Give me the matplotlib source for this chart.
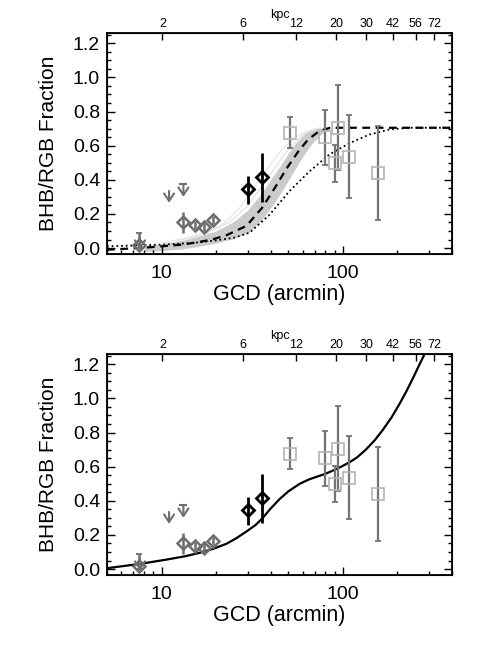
import numpy as np
import matplotlib
matplotlib.use("Agg")
import matplotlib.pyplot as plt
from matplotlib.ticker import MultipleLocator, NullLocator, NullFormatter, FixedLocator, FixedFormatter, LogLocator

plt.rcParams['font.family'] = ['Liberation Sans', 'DejaVu Sans']

# ---------------- data ----------------
# outer fields (gray squares)
sq_x = [51, 80, 90, 94, 108, 157]
sq_y = [0.675, 0.65, 0.50, 0.705, 0.535, 0.44]
sq_lo = [0.585, 0.485, 0.39, 0.455, 0.295, 0.165]
sq_hi = [0.77, 0.81, 0.605, 0.955, 0.78, 0.715]

# black diamonds
bd_x = [30.0, 35.8]
bd_y = [0.345, 0.415]
bd_lo = [0.26, 0.27]
bd_hi = [0.42, 0.555]

# gray diamonds
gd_x = [7.5, 13.2, 15.2, 17.1, 19.2]
gd_y = [0.015, 0.15, 0.135, 0.125, 0.165]
gd_lo = [0.0, 0.087, 0.11, 0.10, 0.14]
gd_hi = [0.087, 0.21, 0.16, 0.15, 0.19]
gd_cap = [True, False, False, False, False]

# upper limits (arrows)
ul_x = [7.6, 11.0, 13.2]
ul_top = [0.06, 0.335, 0.375]
ul_bot = [-0.01, 0.265, 0.30]
ul_cap = [False, False, True]

# top panel model curves
dash_x = [5, 7.5, 10, 13, 16, 19, 22.8, 29.4, 35.8, 42, 48.9, 56.7, 64.2, 74, 85, 120, 200, 400]
dash_y = [-0.01, 0.0, 0.01, 0.02, 0.035, 0.05, 0.075, 0.13, 0.235, 0.35, 0.465, 0.565, 0.635, 0.685, 0.705, 0.705, 0.705, 0.705]

band_x = [8, 10, 13, 16, 20, 25, 30, 35, 40, 45, 50, 55, 60, 65, 70, 80, 90]
band_hi = [0.01, 0.025, 0.045, 0.07, 0.10, 0.155, 0.225, 0.31, 0.40, 0.48, 0.555, 0.615, 0.66, 0.69, 0.70, 0.705, 0.705]
band_lo = [-0.02, -0.015, -0.005, 0.01, 0.03, 0.055, 0.09, 0.155, 0.235, 0.315, 0.395, 0.47, 0.535, 0.59, 0.63, 0.69, 0.705]

faint1_x = [12, 16, 20.9, 26.9, 36.3, 46.7, 57.9, 70, 85]
faint1_y = [0.04, 0.07, 0.12, 0.235, 0.43, 0.585, 0.665, 0.70, 0.705]
faint2_x = [10, 14, 18, 23.7, 30, 38, 48, 60, 75]
faint2_y = [0.03, 0.06, 0.10, 0.15, 0.25, 0.40, 0.555, 0.665, 0.705]

dot_x = [5, 7, 10, 15, 20, 25, 30.6, 39.4, 50.9, 65.6, 84.6, 109, 140, 181, 233, 300, 400]
dot_y = [0.01, 0.015, 0.02, 0.03, 0.045, 0.06, 0.09, 0.195, 0.335, 0.45, 0.55, 0.615, 0.665, 0.695, 0.705, 0.705, 0.705]

# bottom panel model curve
sol_x = [5, 7.6, 10.6, 13.5, 16.2, 19.2, 22.8, 25.8, 29.4, 33, 36.2, 40, 44.8, 50, 57.9, 65, 71.4, 80, 88.6, 98, 108.6, 120, 134, 150, 166, 186, 206, 225, 244, 265, 284]
sol_y = [0.005, 0.03, 0.055, 0.075, 0.095, 0.118, 0.148, 0.18, 0.22, 0.258, 0.30, 0.355, 0.41, 0.455, 0.50, 0.525, 0.54, 0.558, 0.578, 0.60, 0.625, 0.655, 0.70, 0.755, 0.815, 0.89, 0.97, 1.045, 1.12, 1.20, 1.265]

# top axis (kpc) tick positions in arcmin and labels
kpc_pos = [10.1, 28.2, 55.2, 91.5, 135, 188, 252, 320]
kpc_lab = ['2', '6', '12', '20', '30', '42', '56', '72']

GRAY_D = '#6e6e6e'
GRAY_E = '#747474'
GRAY_S = '#b4b4b4'


def draw(ax, top):
    if top:
        ax.fill_between(band_x, band_lo, band_hi, color='#cbcbcb', lw=0, zorder=1)
        ax.plot(faint1_x, faint1_y, color='#e4e4e4', lw=0.8, zorder=1)
        ax.plot(faint2_x, faint2_y, color='#e0e0e0', lw=0.8, zorder=1)
        ax.plot(dash_x, dash_y, color='k', lw=1.6, ls=(0, (3.5, 2.5)), zorder=3)
        ax.plot(dot_x, dot_y, color='k', lw=1.3, ls=(0, (1, 1.6)), zorder=3)
    else:
        ax.plot(sol_x, sol_y, color='k', lw=1.6, zorder=3)

    # squares
    sy = np.array(sq_y)
    ax.errorbar(sq_x, sq_y, yerr=[sy - np.array(sq_lo), np.array(sq_hi) - sy], fmt='none',
                ecolor=GRAY_E, elinewidth=1.6, capsize=2.5, capthick=1.3, zorder=4)
    ax.plot(sq_x, sq_y, 's', mfc='none', mec=GRAY_S, ms=8.5, mew=1.2, zorder=5)

    # gray diamonds
    for x, y, lo, hi, cap in zip(gd_x, gd_y, gd_lo, gd_hi, gd_cap):
        ax.errorbar([x], [y], yerr=[[y - lo], [hi - y]], fmt='none', ecolor=GRAY_D,
                    elinewidth=1.8, capsize=2.5 if cap else 0, capthick=1.3, zorder=4)
    ax.plot(gd_x, gd_y, 'D', mfc='none', mec=GRAY_D, ms=6, mew=1.8, zorder=5)

    # upper limits
    for x, t, b, cap in zip(ul_x, ul_top, ul_bot, ul_cap):
        ax.annotate('', xy=(x, b), xytext=(x, t),
                    arrowprops=dict(arrowstyle='->,head_length=0.45,head_width=0.3',
                                    color=GRAY_D, lw=1.5,
                                    shrinkA=0, shrinkB=0, mutation_scale=12),
                    zorder=5)
        if cap:
            ax.plot([x], [t], marker='_', color=GRAY_D, ms=6, mew=1.5, zorder=5)

    # black diamonds
    by = np.array(bd_y)
    ax.errorbar(bd_x, bd_y, yerr=[by - np.array(bd_lo), np.array(bd_hi) - by], fmt='none',
                ecolor='k', elinewidth=2.0, capsize=0, zorder=6)
    ax.plot(bd_x, bd_y, 'D', mfc='none', mec='k', ms=6, mew=2.0, zorder=7)

    ax.set_xscale('log')
    ax.set_xlim(5, 400)
    ax.set_ylim(-0.035, 1.26)
    ax.xaxis.set_major_locator(FixedLocator([10, 100]))
    ax.xaxis.set_major_formatter(FixedFormatter(['10', '100']))
    ax.xaxis.set_minor_locator(LogLocator(base=10, subs=np.arange(2, 10)))
    ax.xaxis.set_minor_formatter(NullFormatter())
    ax.yaxis.set_major_locator(MultipleLocator(0.2))
    ax.yaxis.set_minor_locator(MultipleLocator(0.05))
    ax.yaxis.set_major_formatter(plt.FuncFormatter(lambda v, p: f'{v:.1f}'))
    ax.tick_params(which='both', direction='in', top=False, right=True, width=1.0)
    ax.tick_params(which='major', length=6, labelsize=14, pad=5)
    ax.tick_params(which='minor', length=3)
    ax.tick_params(axis='x', which='major', pad=8)
    for s in ax.spines.values():
        s.set_linewidth(1.3)
    ax.set_xlabel('GCD (arcmin)', fontsize=15.5, labelpad=1)
    ax.set_ylabel('BHB/RGB Fraction', fontsize=15, labelpad=11)

    tw = ax.twiny()
    tw.set_xscale('log')
    tw.set_xlim(5, 400)
    tw.xaxis.set_major_locator(FixedLocator(kpc_pos))
    tw.xaxis.set_major_formatter(FixedFormatter(kpc_lab))
    tw.xaxis.set_minor_locator(NullLocator())
    tw.tick_params(axis='x', which='major', direction='in', length=5, width=1.0,
                   labelsize=9, pad=2)
    ax.text(0.50, 1.082, 'kpc', transform=ax.transAxes, ha='center', va='center', fontsize=9)


fig = plt.figure(figsize=(4.85, 6.46), dpi=100)
ax1 = fig.add_axes([0.2206, 0.6068, 0.7113, 0.342])
ax2 = fig.add_axes([0.2206, 0.1099, 0.7113, 0.342])
draw(ax1, True)
draw(ax2, False)
fig.savefig('out.png', dpi=100)
